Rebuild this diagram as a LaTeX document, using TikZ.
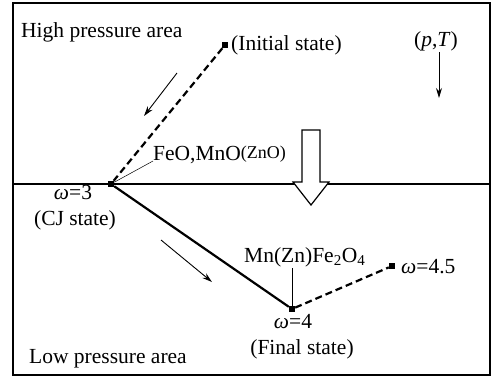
\documentclass[tikz,border=0pt]{standalone}
\usepackage{fontspec}
\setmainfont{Liberation Serif}
\usetikzlibrary{arrows.meta}
\tikzset{
  lbl/.style={inner sep=0pt, font=\fontsize{21.5}{24}\selectfont},
  pt/.style={fill=black, minimum size=6pt, inner sep=0pt},
  thinarrow/.style={line width=0.9pt, -{Stealth[length=10pt,width=6pt]}},
  leader/.style={line width=0.5pt},
  heavy/.style={line width=2.2pt},
  heavydash/.style={line width=2.2pt, dash pattern=on 7pt off 4pt}
}
\begin{document}
\begin{tikzpicture}[x=1pt,y=-1pt]
\useasboundingbox (0,0) rectangle (495,381);
\draw[line width=1.5pt] (13,3) rectangle (490,375);
\coordinate (L) at (13,184);
\coordinate (R) at (490,184);
\draw[line width=1.2pt] (L) -- (R);

% state points
\node[pt] (init) at (225,45) {};
\node[pt] (cj) at (111,184) {};
\node[pt] (fin) at (292,309) {};
\node[pt] (w45) at (392,266) {};

\draw[heavydash] (init) -- (cj);
\draw[heavy] (cj) -- (fin);
\draw[heavydash] (fin) -- (w45);

% labels
\node[lbl, anchor=west] (hp) at (21,32) {High pressure area};
\node[lbl, anchor=west] (initl) at (231,45) {(Initial state)};
\node[lbl] (pT) at (436,41) {(\textit{p},\textit{T})};
\node[lbl, anchor=west] (feo) at (153,155) {FeO,MnO\raisebox{1.5pt}{\fontsize{18}{20}\selectfont(ZnO)}};
\node[lbl] (w3) at (73,192) {\textit{ω}=3};
\node[lbl] (cjl) at (75,220) {(CJ state)};
\node[lbl, anchor=west] (mn) at (244,257) {Mn(Zn)Fe\textsubscript{2}O\textsubscript{4}};
\node[lbl, anchor=west] (w45l) at (401,267) {\textit{ω}=4.5};
\node[lbl] (w4) at (293,322) {\textit{ω}=4};
\node[lbl] (finl) at (302,349) {(Final state)};
\node[lbl, anchor=west] (lp) at (29,359) {Low pressure area};

% leaders
\coordinate (feoL) at (153,161);
\draw[leader] (feoL) -- (cj);
\coordinate (mnL) at (292,268);
\draw[leader] (mnL) -- (fin);

% direction arrows
\coordinate (a1s) at (177,73);
\coordinate (a1e) at (144,116);
\draw[thinarrow] (a1s) -- (a1e);
\coordinate (a2s) at (161,240);
\coordinate (a2e) at (212,282);
\draw[thinarrow] (a2s) -- (a2e);
\coordinate (a3s) at (439,52);
\coordinate (a3e) at (439,98);
\draw[thinarrow] (a3s) -- (a3e);

% hollow arrow
\draw[line width=1.2pt, fill=white] (302,130) -- (320,130) -- (320,182) -- (329,182) -- (311,205) -- (293,182) -- (302,182) -- cycle;
\end{tikzpicture}
\end{document}
